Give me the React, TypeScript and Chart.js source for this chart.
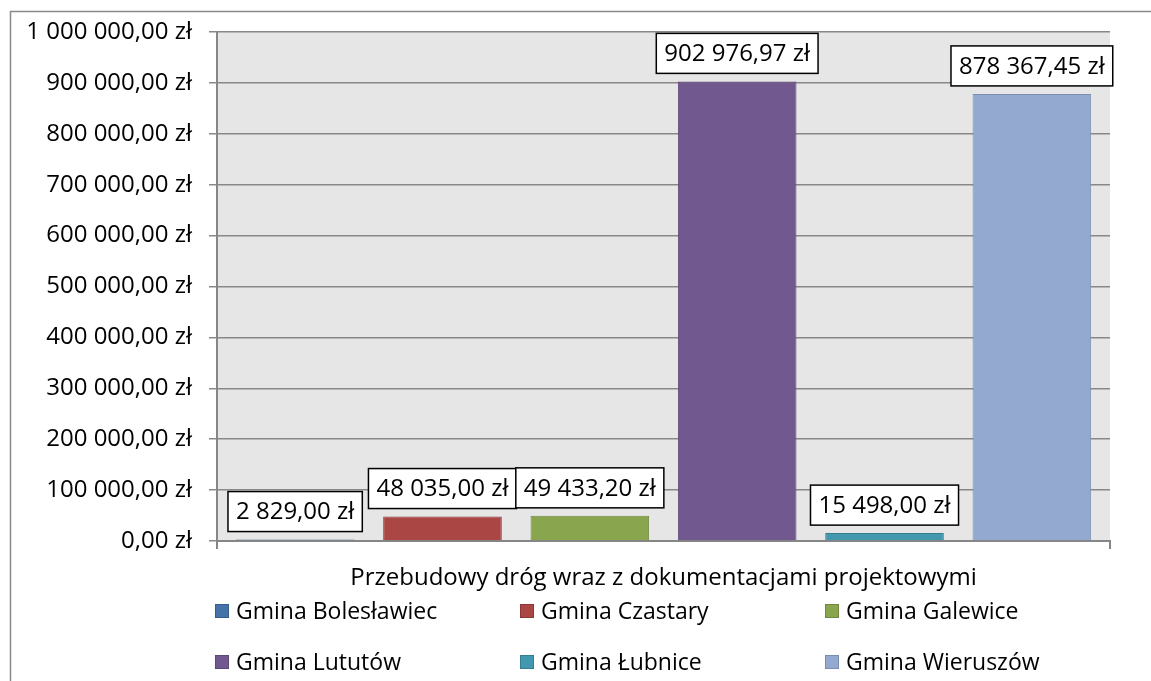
import { useEffect, useRef } from 'react';
import { Chart, registerables } from 'chart.js';

Chart.register(...registerables);

const categories = ['Przebudowy dróg wraz z dokumentacjami projektowymi'];
const seriesNames = [
  'Gmina Bolesławiec',
  'Gmina Czastary',
  'Gmina Galewice',
  'Gmina Lututów',
  'Gmina Łubnice',
  'Gmina Wieruszów',
];
const seriesValues = [2829, 48035, 49433.2, 902976.97, 15498, 878367.45];
const fillColors = ['#4572A7', '#AA4643', '#89A54E', '#71588F', '#4198AF', '#93A9CF'];
const borderColors = ['#385D8A', '#8C3836', '#71893F', '#5C4776', '#357D91', '#7A8DB0'];
const yMin = 0;
const yMax = 1000000;
const yStep = 100000;

const FONT = '"Open Sans", sans-serif';

function fmt(v: number): string {
  const [ip, dp] = Math.abs(v).toFixed(2).split('.');
  const grouped = ip.replace(/\B(?=(\d{3})+(?!\d))/g, ' ');
  return (v < 0 ? '-' : '') + grouped + ',' + dp + ' zł';
}

const decor = {
  id: 'decor',
  beforeDraw(chart: any) {
    const { ctx, chartArea: a } = chart;
    ctx.save();
    ctx.fillStyle = '#E6E6E6';
    ctx.fillRect(a.left, a.top, a.right - a.left, a.bottom - a.top);
    ctx.strokeStyle = '#888888';
    ctx.lineWidth = 1.5;
    ctx.beginPath();
    ctx.moveTo(10.5, chart.height);
    ctx.lineTo(10.5, 11.5);
    ctx.lineTo(chart.width, 11.5);
    ctx.stroke();
    ctx.restore();
  },
  afterDatasetsDraw(chart: any) {
    const { ctx } = chart;
    ctx.save();
    ctx.font = `24px ${FONT}`;
    ctx.textAlign = 'center';
    ctx.textBaseline = 'middle';
    chart.data.datasets.forEach((ds: any, i: number) => {
      const meta = chart.getDatasetMeta(i);
      const el = meta.data[0];
      if (!el) return;
      const text = fmt(ds.data[0]);
      const w = ctx.measureText(text).width + 16;
      const h = 40;
      const bx = el.x - w / 2;
      const by = el.y - 8 - h;
      ctx.fillStyle = '#FFFFFF';
      ctx.fillRect(bx, by, w, h);
      ctx.strokeStyle = '#000000';
      ctx.lineWidth = 1.5;
      ctx.strokeRect(bx, by, w, h);
      ctx.fillStyle = '#000000';
      ctx.fillText(text, el.x, by + h / 2 + 1);
    });
    ctx.restore();
  },
  afterDraw(chart: any) {
    const { ctx } = chart;
    const rows = [611, 662];
    const cols = [215, 520, 825];
    ctx.save();
    ctx.font = `23px ${FONT}`;
    ctx.textAlign = 'left';
    ctx.textBaseline = 'middle';
    chart.data.datasets.forEach((ds: any, i: number) => {
      const x = cols[i % 3];
      const y = rows[Math.floor(i / 3)];
      ctx.fillStyle = ds.backgroundColor;
      ctx.fillRect(x, y - 7, 14, 14);
      ctx.strokeStyle = ds.borderColor;
      ctx.lineWidth = 1;
      ctx.strokeRect(x + 0.5, y - 6.5, 13, 13);
      ctx.fillStyle = '#000000';
      ctx.fillText(ds.label, x + 21, y + 1);
    });
    ctx.restore();
  },
};

export default function App() {
  const ref = useRef<HTMLCanvasElement | null>(null);
  useEffect(() => {
    if (!ref.current) return;
    const chart = new Chart(ref.current, {
      type: 'bar',
      data: {
        labels: categories,
        datasets: seriesNames.map((name, i) => ({
          label: name,
          data: [seriesValues[i]],
          backgroundColor: fillColors[i],
          borderColor: borderColors[i],
          borderWidth: 1,
          categoryPercentage: 0.99,
          barPercentage: 0.805,
        })),
      },
      options: {
        animation: false,
        responsive: false,
        maintainAspectRatio: false,
        layout: { padding: { top: 32, right: 41, left: 0, bottom: 0 } },
        plugins: {
          legend: { display: false },
          tooltip: { enabled: false },
          title: { display: false },
        },
        scales: {
          x: {
            grid: {
              display: true,
              drawOnChartArea: false,
              drawTicks: true,
              tickLength: 8,
              color: '#868686',
              lineWidth: 2,
              offset: true,
            },
            border: { display: true, color: '#868686', width: 2 },
            ticks: {
              color: '#000000',
              font: { family: FONT, size: 24 },
              padding: 15,
              maxRotation: 0,
            },
            afterFit(scale: any) {
              scale.height = 140;
            },
          },
          y: {
            min: yMin,
            max: yMax,
            grid: {
              color: '#888888',
              lineWidth: 1.5,
              drawTicks: true,
              tickLength: 8,
            },
            border: { display: true, color: '#868686', width: 2 },
            ticks: {
              stepSize: yStep,
              color: '#000000',
              font: { family: FONT, size: 24 },
              padding: 17,
              callback: (v: any) => fmt(Number(v)),
            },
            afterFit(scale: any) {
              scale.width = 217;
            },
          },
        },
      },
      plugins: [decor],
    });
    return () => chart.destroy();
  }, []);
  return (
    <div style={{ position: 'fixed', left: 0, top: 0, width: 1151, height: 681, background: '#FFFFFF' }}>
      <canvas ref={ref} width={1151} height={681} style={{ width: 1151, height: 681, display: 'block' }} />
    </div>
  );
}
